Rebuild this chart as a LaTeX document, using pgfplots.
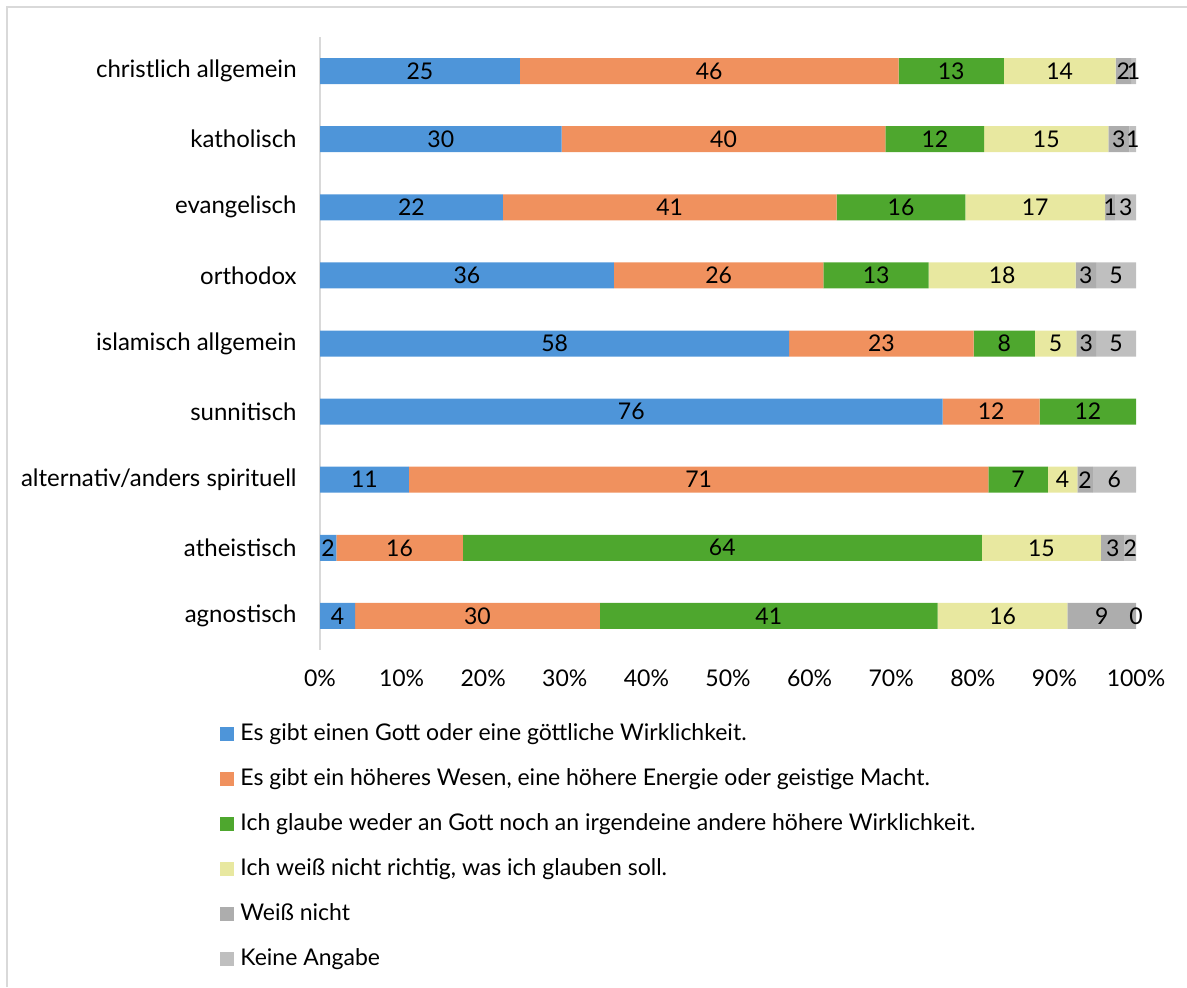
\documentclass[border=0pt]{standalone}
\usepackage{fontspec}
\setmainfont{Lato}
\usepackage{pgfplots}
\usepackage{pgfplotstable}
\pgfplotsset{compat=1.18}

\definecolor{cBlue}{HTML}{4E95D9}
\definecolor{cOrange}{HTML}{F0915E}
\definecolor{cGreen}{HTML}{4EA72E}
\definecolor{cYellow}{HTML}{E8E8A0}
\definecolor{cDark}{HTML}{ADADAD}
\definecolor{cLight}{HTML}{BFBFBF}
\definecolor{frameGray}{HTML}{D9D9D9}

% bar lengths (share of row, %) and the printed labels
\pgfplotstableread{
v1   v2   v3   v4   v5  v6  l1 l2 l3 l4 l5 l6
24.5 46.4 12.9 13.7 1.9 0.6 25 46 13 14 2 1
29.6 39.7 12.1 15.2 2.6 0.8 30 40 12 15 3 1
22.4 40.9 15.8 17.1 1.3 2.5 22 41 16 17 1 3
36.0 25.7 12.9 18.0 2.5 4.9 36 26 13 18 3 5
57.5 22.6 7.5  5.1  2.4 4.9 58 23 8 5 3 5
76.3 11.9 11.8 0    0   0   76 12 12 {} {} {}
10.9 71.0 7.3  3.6  1.9 5.3 11 71 7 4 2 6
2.0  15.5 63.6 14.6 2.9 1.4 2 16 64 15 3 2
4.3  30.0 41.4 15.9 8.4 0   4 30 41 16 9 0
}\data

\pgfplotsset{
  frame/.style={at={(160pt,168.5pt)}, anchor=south west,
    scale only axis, width=408pt, height=306.5pt,
    xmin=0, xmax=100, ymin=-0.5, ymax=8.5, y dir=reverse},
  lab/.style={draw=none, mark=none, forget plot, point meta=explicit symbolic,
    nodes near coords,
    every node near coord/.append style={anchor=center, inner sep=0pt, text=black}},
}

\begin{document}
\begin{tikzpicture}[font=\fontsize{11.5}{13}\selectfont]
\useasboundingbox (0,0) rectangle (593.5pt,493.5pt);
\draw[frameGray, line width=1pt] (3.5pt,0) -- (3.5pt,490pt) -- (593.5pt,490pt);
\begin{axis}[
    frame,
    xbar stacked, bar width=13pt,
    axis lines*=left,
    x axis line style={draw=none},
    y axis line style={draw=frameGray, line width=1pt, -},
    major tick length=0pt,
    xtick={0,10,...,100},
    ytick={0,...,8},
    yticklabels={christlich allgemein, katholisch, evangelisch, orthodox,
      islamisch allgemein, sunnitisch, alternativ/anders spirituell,
      atheistisch, agnostisch},
    /pgf/number format/assume math mode=true,
    xticklabel={\pgfmathprintnumber{\tick}\%},
    yticklabel style={inner sep=0pt, xshift=-11.5pt, font=\fontsize{12}{14}\selectfont},
    xticklabel style={inner sep=0pt, yshift=-9.5pt},
    legend cell align=left,
    legend style={at={(-0.1225,-0.1191)}, anchor=north west, draw=none, fill=none,
      inner sep=0pt, row sep=11.5pt, column sep=3pt,
      nodes={inner sep=0pt, text height=8.5pt, text depth=2.5pt}},
    legend image code/.code={\fill[#1] (0pt,-3.5pt) rectangle (7pt,3.5pt);},
]
\addplot[fill=cBlue, draw=none] table[x=v1, y expr=\coordindex] {\data};
\addplot[fill=cOrange, draw=none] table[x=v2, y expr=\coordindex] {\data};
\addplot[fill=cGreen, draw=none] table[x=v3, y expr=\coordindex] {\data};
\addplot[fill=cYellow, draw=none] table[x=v4, y expr=\coordindex] {\data};
\addplot[fill=cDark, draw=none] table[x=v5, y expr=\coordindex] {\data};
\addplot[fill=cLight, draw=none] table[x=v6, y expr=\coordindex] {\data};
\legend{Es gibt einen Gott oder eine göttliche Wirklichkeit.,
  {Es gibt ein höheres Wesen, eine höhere Energie oder geistige Macht.},
  Ich glaube weder an Gott noch an irgendeine andere höhere Wirklichkeit.,
  {Ich weiß nicht richtig, was ich glauben soll.},
  Weiß nicht,
  Keine Angabe}
\end{axis}
% value labels, centred in each segment
\begin{axis}[frame, hide axis]
\addplot[lab] table[x expr=\thisrow{v1}/2, y expr=\coordindex, meta=l1] {\data};
\addplot[lab] table[x expr=\thisrow{v1}+\thisrow{v2}/2, y expr=\coordindex, meta=l2] {\data};
\addplot[lab] table[x expr=\thisrow{v1}+\thisrow{v2}+\thisrow{v3}/2, y expr=\coordindex, meta=l3] {\data};
\addplot[lab] table[x expr=\thisrow{v1}+\thisrow{v2}+\thisrow{v3}+\thisrow{v4}/2, y expr=\coordindex, meta=l4] {\data};
\addplot[lab] table[x expr=\thisrow{v1}+\thisrow{v2}+\thisrow{v3}+\thisrow{v4}+\thisrow{v5}/2, y expr=\coordindex, meta=l5] {\data};
\addplot[lab] table[x expr=\thisrow{v1}+\thisrow{v2}+\thisrow{v3}+\thisrow{v4}+\thisrow{v5}+\thisrow{v6}/2, y expr=\coordindex, meta=l6] {\data};
\end{axis}
\end{tikzpicture}
\end{document}
